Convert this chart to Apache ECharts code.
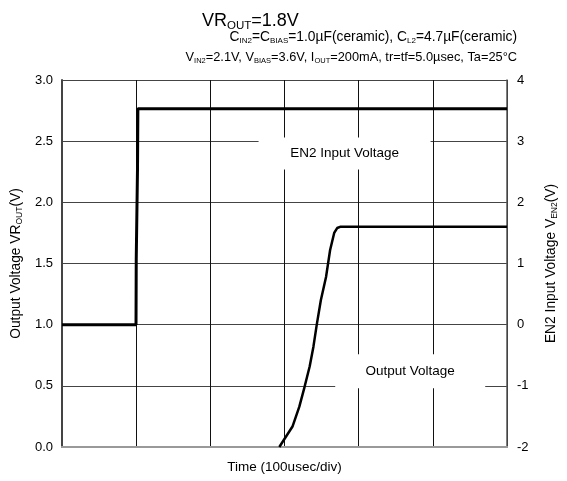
<!DOCTYPE html>
<html>
<head>
<meta charset="utf-8">
<script src="https://cdn.jsdelivr.net/npm/echarts@6/dist/echarts.min.js"></script>
<style>
  html, body { margin: 0; padding: 0; background: #fff; }
  #chart { width: 567px; height: 481px; }
</style>
</head>
<body>
<div id="chart"></div>
<script>
// time in usec (100usec/div, 6 divisions)
const outTime = [293, 311, 320, 327, 334, 339, 343.5, 349, 356, 361.5, 367, 371, 375, 380, 600]
const outVolt = [0.0, 0.17, 0.33, 0.49, 0.66, 0.82, 1.0, 1.2, 1.39, 1.61, 1.75, 1.79, 1.8, 1.8, 1.8]
const enTime = [0, 99.8, 100.1, 101.8, 102.3, 600]
const enVolt = [0, 0, 1.07, 2.55, 3.53, 3.53]
// label annotations [time, left-axis value, text]
const labelEN = [381, 2.40, 'EN2 Input Voltage']
const labelOut = [469.5, 0.62, 'Output Voltage']
const leftTicks = [0, 0.5, 1.0, 1.5, 2.0, 2.5, 3.0]

const FONT = '"Liberation Sans", Arial, sans-serif'
const subRich = (size, sub, lh) => ({
  a: { fontSize: size, lineHeight: lh, color: '#000', fontFamily: FONT, fontWeight: 'normal' },
  s: { fontSize: sub, lineHeight: sub, verticalAlign: 'bottom', color: '#000', fontFamily: FONT, fontWeight: 'normal' }
})

const chart = echarts.init(document.getElementById('chart'))
chart.setOption({
  animation: false,
  backgroundColor: '#fff',
  title: [
    {
      text: '{a|VR}{s|OUT}{a|=1.8V}',
      left: 202,
      top: 10,
      padding: 0,
      textStyle: { rich: subRich(18, 11.5, 22) }
    },
    {
      text: '{a|C}{s|IN2}{a|=C}{s|BIAS}{a|=1.0µF(ceramic), C}{s|L2}{a|=4.7µF(ceramic)}',
      right: 50,
      top: 30,
      padding: 0,
      textStyle: { rich: subRich(13.8, 8, 15) }
    },
    {
      text: '{a|V}{s|IN2}{a|=2.1V, V}{s|BIAS}{a|=3.6V, I}{s|OUT}{a|=200mA, tr=tf=5.0µsec, Ta=25°C}',
      right: 50,
      top: 50,
      padding: 0,
      textStyle: { rich: subRich(12.8, 7.5, 15) }
    }
  ],
  grid: {
    left: 62,
    right: 59,
    top: 80,
    bottom: 34
  },
  xAxis: [
    {
      type: 'value',
      min: 0,
      max: 600,
      interval: 100,
      name: 'Time (100usec/div)',
      nameLocation: 'middle',
      nameGap: 13,
      nameTextStyle: { fontFamily: FONT, fontSize: 13.5, color: '#000' },
      axisLabel: { show: false },
      axisTick: { show: false },
      axisLine: { onZero: false, lineStyle: { color: '#999', width: 2 } },
      splitLine: { show: true, lineStyle: { color: '#111', width: 1 } }
    },
    {
      type: 'value',
      position: 'top',
      min: 0,
      max: 600,
      axisLabel: { show: false },
      axisTick: { show: false },
      axisLine: { lineStyle: { color: '#999', width: 2 } },
      splitLine: { show: false }
    }
  ],
  yAxis: [
    {
      type: 'value',
      min: leftTicks[0],
      max: leftTicks[leftTicks.length - 1],
      interval: 0.5,
      name: '{a|Output Voltage VR}{s|OUT}{a|(V)}',
      nameLocation: 'middle',
      nameGap: 32,
      nameRotate: 90,
      nameTextStyle: { rich: subRich(13.8, 8.5, 15) },
      axisLabel: {
        margin: 9,
        color: '#000',
        fontSize: 13,
        fontFamily: FONT,
        formatter: v => v.toFixed(1)
      },
      axisTick: { show: false },
      axisLine: { show: true, onZero: false, lineStyle: { color: '#444', width: 2 } },
      splitLine: { show: true, lineStyle: { color: '#444', width: 1 } }
    },
    {
      type: 'value',
      min: -2,
      max: 4,
      interval: 1,
      position: 'right',
      name: '{a|EN2 Input Voltage V}{s|EN2}{a|(V)}',
      nameLocation: 'middle',
      nameGap: 37,
      nameRotate: 90,
      nameTextStyle: { rich: subRich(13.8, 8.5, 15) },
      axisLabel: { margin: 10, color: '#000', fontSize: 13, fontFamily: FONT },
      axisTick: { show: false },
      axisLine: { show: true, onZero: false, lineStyle: { color: '#555', width: 1.5 } },
      splitLine: { show: false }
    }
  ],
  series: [
    {
      name: 'Output Voltage',
      type: 'line',
      xAxisIndex: 0,
      yAxisIndex: 0,
      showSymbol: false,
      data: outTime.map((t, i) => [t, outVolt[i]]),
      lineStyle: { color: '#000', width: 2.5 },
      markPoint: {
        symbol: 'rect',
        silent: true,
        itemStyle: { color: '#fff' },
        label: {
          show: true,
          position: 'inside',
          color: '#000',
          fontSize: 13.5,
          fontFamily: FONT,
          formatter: p => p.name
        },
        data: [
          { name: labelEN[2], coord: [labelEN[0], labelEN[1]], symbolSize: [172, 32] },
          { name: labelOut[2], coord: [labelOut[0], labelOut[1]], symbolSize: [150, 34] }
        ]
      }
    },
    {
      name: 'EN2 Input Voltage',
      type: 'line',
      xAxisIndex: 0,
      yAxisIndex: 1,
      showSymbol: false,
      data: enTime.map((t, i) => [t, enVolt[i]]),
      lineStyle: { color: '#000', width: 3 }
    }
  ]
})
</script>
</body>
</html>
